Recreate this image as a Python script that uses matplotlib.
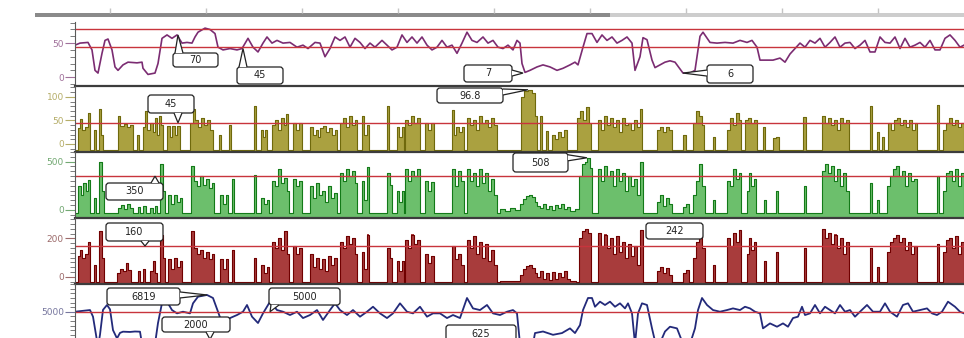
import numpy as np
import matplotlib.pyplot as plt
from matplotlib.patches import FancyBboxPatch, Polygon, Rectangle
from matplotlib.ticker import MultipleLocator

# ---------------- data (t = minutes from left edge) ----------------
level_pairs = [(0, 47), (5, 50), (13, 51), (17, 40), (20, 10), (23, 6), (27, 35), (30, 54), (33, 56), (37, 40),
               (40, 15), (43, 10), (48, 18), (53, 22), (62, 21), (67, 22), (68, 13), (73, 4), (80, 6), (83, 20),
               (87, 57), (92, 62), (97, 57), (102, 62), (107, 50), (112, 51), (117, 50), (120, 59), (123, 66),
               (130, 72), (135, 70), (140, 64), (143, 44), (148, 40), (155, 42), (162, 40), (167, 42), (173, 57),
               (178, 44), (183, 37), (188, 50), (192, 59), (197, 50), (202, 54), (208, 50), (215, 51), (222, 44),
               (228, 47), (233, 42), (240, 51), (245, 50), (250, 30), (255, 42), (260, 59), (265, 54), (270, 59),
               (275, 44), (280, 57), (285, 51), (290, 42), (295, 50), (300, 44), (307, 54), (312, 47), (317, 40),
               (322, 44), (327, 62), (332, 51), (337, 59), (342, 50), (347, 59), (352, 47), (357, 40), (362, 44),
               (367, 54), (372, 44), (377, 47), (382, 35), (387, 50), (392, 66), (397, 54), (402, 51), (408, 59),
               (413, 50), (418, 54), (423, 44), (428, 42), (433, 47), (438, 40), (442, 54), (445, 50), (447, 20),
               (450, 7), (455, 10), (462, 15), (468, 18), (475, 15), (482, 10), (488, 13), (495, 18), (500, 22),
               (503, 18), (508, 44), (512, 64), (517, 64), (522, 51), (527, 62), (532, 54), (537, 59), (542, 50),
               (547, 54), (552, 59), (557, 50), (560, 10), (565, 30), (568, 58), (572, 55), (577, 25), (580, 14),
               (585, 18), (590, 22), (595, 24), (600, 22), (605, 12), (608, 6), (615, 6), (620, 10), (625, 60),
               (628, 66), (635, 51), (642, 50), (650, 51), (658, 50), (665, 54), (672, 51), (677, 54), (682, 44),
               (685, 25), (692, 25), (698, 25), (705, 28), (710, 22), (715, 34), (720, 42), (725, 50), (730, 44),
               (735, 54), (740, 50), (745, 57), (750, 44), (755, 51), (760, 59), (765, 44), (770, 50), (775, 51),
               (780, 42), (785, 47), (790, 54), (795, 37), (800, 37), (805, 59), (810, 51), (815, 50), (820, 59),
               (825, 42), (830, 57), (835, 44), (840, 47), (845, 51), (850, 44), (855, 54), (860, 40), (865, 40),
               (870, 57), (875, 62), (880, 54), (885, 44), (889, 47)]

olive_pairs = [(0, -13), (3, 33), (5, 53), (7, 30), (10, 35), (13, 66), (15, -13), (19, 30), (21, -13), (24, 74),
               (26, 20), (28, -13), (43, 60), (45, 38), (49, 42), (52, 35), (55, 40), (58, -13), (62, 20), (64, -13),
               (68, 35), (70, 70), (72, 30), (75, 45), (78, 25), (80, 55), (82, 20), (84, 60), (86, 40), (88, -13),
               (92, 38), (95, 15), (97, 38), (100, 20), (102, 38), (105, -13), (115, 45), (118, 74), (120, 50),
               (123, 35), (126, 55), (129, 40), (132, 50), (135, 30), (138, -13), (144, 20), (146, -13), (154, 40),
               (156, -13), (179, 80), (181, -13), (186, 30), (188, 15), (190, 30), (192, -13), (197, 40), (200, 50),
               (203, 30), (206, 55), (209, 40), (211, 64), (213, -13), (218, 45), (221, 30), (224, 45), (227, -13),
               (235, 35), (238, 20), (241, 30), (243, 15), (245, 33), (248, 38), (251, 25), (254, 33), (257, 20),
               (260, 30), (262, -13), (265, 45), (268, 55), (271, 35), (274, 60), (277, 40), (280, 50), (282, -13),
               (287, 60), (289, 20), (292, 40), (294, -13), (312, 80), (314, -13), (322, 35), (324, 15), (327, 35),
               (329, -13), (330, 50), (333, 40), (336, 60), (339, 45), (342, 55), (345, -13), (350, 45), (353, 30),
               (356, 45), (359, -13), (377, 73), (379, 20), (381, 35), (384, 25), (387, 35), (389, -13), (392, 55),
               (395, 40), (398, 50), (401, 30), (404, 60), (407, 45), (410, 50), (413, 35), (416, 55), (419, 40),
               (422, -13), (446, 100), (449, 112), (453, 115), (457, 108), (460, 60), (462, -13), (465, 60),
               (467, -13), (471, 28), (473, -13), (477, 20), (480, 10), (483, 25), (486, 15), (489, 30), (492, -13),
               (502, 55), (505, 70), (508, 50), (511, 78), (514, 45), (516, -13), (523, 50), (526, 30), (529, 60),
               (532, 40), (535, 55), (538, 35), (541, 50), (544, 25), (547, 55), (550, 40), (553, 45), (556, 30),
               (559, 50), (562, 35), (565, 75), (567, -13), (582, 30), (585, 35), (588, 25), (591, 35), (594, 30),
               (597, -13), (608, 20), (611, -13), (618, 45), (621, 70), (624, 60), (627, 40), (629, -13), (638, 15),
               (640, -13), (652, 30), (655, 55), (658, 40), (661, 65), (664, 50), (666, -13), (670, 50), (673, 55),
               (676, 45), (679, 50), (682, -13), (688, 35), (690, -13), (698, 12), (701, 15), (704, -13), (728, 58),
               (731, -13), (747, 60), (750, 45), (753, 55), (756, 40), (759, 50), (762, 30), (765, 55), (768, 45),
               (771, 50), (774, -13), (795, 80), (797, -13), (802, 25), (804, -13), (807, 15), (809, -13), (813, 45),
               (816, 30), (819, 50), (822, 55), (825, 40), (828, 50), (831, 35), (834, 50), (837, 30), (840, 45),
               (842, -13), (862, 82), (864, -13), (868, 30), (871, 45), (874, 55), (877, 40), (880, 50), (883, 35),
               (886, 45), (889, -13)]

flow_pairs = [(0, -30), (3, 250), (6, 150), (8, 280), (11, 200), (13, 310), (15, -30), (19, 120), (21, -30),
              (24, 500), (27, 200), (29, -30), (43, 20), (46, 50), (49, 10), (52, 60), (55, 20), (58, -30), (63, 30),
              (65, -30), (68, 40), (71, -30), (75, 20), (78, -30), (80, 40), (82, -30), (85, 480), (88, 200),
              (90, -30), (93, 150), (96, 60), (99, 160), (102, 80), (105, 120), (107, -30), (116, 450), (119, 300),
              (122, 250), (125, 350), (128, 260), (131, 320), (134, 230), (137, 280), (139, -30), (145, 150),
              (148, 60), (151, 150), (153, -30), (157, 320), (159, -30), (179, 360), (181, -30), (186, 120),
              (189, 60), (192, 100), (194, -30), (197, 300), (200, 250), (203, 420), (206, 280), (209, 330),
              (212, 200), (214, -30), (218, 320), (221, 250), (224, 300), (227, -30), (235, 250), (238, 120),
              (241, 280), (244, 150), (247, 200), (250, 80), (253, 250), (256, 120), (259, 180), (262, -30),
              (265, 380), (268, 300), (271, 420), (274, 350), (277, 400), (280, 280), (282, -30), (287, 300),
              (289, 100), (292, 440), (294, -30), (312, 380), (315, 260), (317, -30), (322, 200), (324, 80),
              (327, 200), (329, -30), (330, 420), (333, 300), (336, 400), (339, 350), (342, 420), (345, -30),
              (350, 300), (353, 200), (356, 290), (359, -30), (377, 420), (380, 250), (383, 400), (386, 300),
              (389, -30), (392, 420), (395, 300), (398, 380), (401, 250), (404, 420), (407, 280), (410, 380),
              (413, 200), (416, 320), (419, 150), (422, -30), (425, 10), (430, -10), (435, 20), (440, 0), (445, 60),
              (448, 110), (451, 140), (454, 160), (457, 130), (460, 80), (462, 40), (465, 20), (468, 60), (471, 10),
              (474, 40), (477, 0), (480, 50), (483, 20), (486, 60), (489, 10), (492, 30), (495, -10), (500, 10),
              (504, 350), (507, 480), (510, 500), (512, 540), (515, 430), (517, -30), (523, 420), (526, 300),
              (529, 460), (532, 350), (535, 400), (538, 250), (541, 420), (544, 300), (547, 380), (550, 200),
              (553, 350), (556, 250), (559, 320), (562, 150), (565, 500), (568, -30), (582, 80), (585, 150),
              (588, 40), (591, 120), (594, 60), (597, -30), (608, 30), (611, 60), (614, -30), (618, 150), (621, 300),
              (624, 480), (627, 250), (630, -30), (638, 100), (640, -30), (652, 300), (655, 250), (658, 420),
              (661, 320), (664, 380), (666, -30), (672, 200), (674, 380), (676, 250), (679, 320), (681, -30),
              (689, 100), (691, -30), (701, 200), (703, -30), (729, 250), (731, -30), (747, 400), (750, 480),
              (753, 380), (756, 450), (759, 300), (762, 420), (765, 250), (768, 380), (771, 200), (774, -30),
              (795, 280), (797, -30), (802, 100), (804, -30), (812, 250), (815, 350), (818, 420), (821, 460),
              (824, 350), (827, 400), (830, 250), (833, 380), (836, 300), (839, 320), (842, -30), (862, 350),
              (864, -30), (868, 200), (871, 380), (874, 400), (877, 300), (880, 420), (883, 250), (886, 380),
              (889, -30)]

power_pairs = [(0, -26), (3, 110), (5, 140), (7, 100), (10, 120), (13, 180), (15, -26), (19, 60), (21, -26),
               (24, 240), (27, 100), (29, -26), (42, 20), (45, 40), (48, 30), (51, 70), (53, 35), (56, -26), (63, 30),
               (65, -26), (68, 40), (70, -26), (75, 30), (78, 80), (80, 20), (82, -26), (85, 220), (88, 100),
               (90, -26), (93, 90), (96, 40), (99, 100), (102, 50), (105, 80), (107, -26), (116, 240), (119, 150),
               (122, 120), (125, 140), (128, 100), (131, 130), (134, 90), (137, 120), (139, -26), (145, 90),
               (148, 40), (151, 90), (153, -26), (157, 140), (159, -26), (179, 100), (181, -26), (186, 60), (189, 20),
               (192, 50), (194, -26), (197, 180), (200, 150), (203, 200), (206, 140), (209, 240), (212, 120),
               (214, -26), (218, 160), (221, 120), (224, 150), (227, -26), (235, 120), (238, 50), (241, 100),
               (244, 40), (247, 90), (250, 30), (253, 110), (256, 60), (259, 100), (262, -26), (265, 180), (268, 150),
               (271, 210), (274, 170), (277, 200), (280, 120), (282, -26), (287, 130), (289, 40), (292, 220),
               (294, -26), (312, 150), (315, 100), (317, -26), (322, 80), (324, 30), (327, 80), (329, -26), (330, 190),
               (333, 150), (336, 220), (339, 170), (342, 190), (345, -26), (350, 120), (353, 70), (356, 110),
               (359, -26), (377, 160), (380, 90), (383, 120), (386, 60), (389, -26), (392, 190), (395, 150),
               (398, 210), (401, 120), (404, 180), (407, 100), (410, 170), (413, 80), (416, 140), (419, 60),
               (422, -26), (425, -20), (442, -20), (445, 10), (448, 40), (451, 55), (454, 60), (457, 45), (460, 20),
               (462, 0), (465, 30), (468, -10), (471, 20), (474, -15), (477, 25), (480, -10), (483, 20), (486, 0),
               (489, 30), (492, -10), (495, -20), (501, -26), (504, 200), (507, 240), (510, 250), (513, 230),
               (516, -26), (523, 230), (526, 160), (529, 220), (532, 150), (535, 200), (538, 120), (541, 210),
               (544, 130), (547, 180), (550, 100), (553, 170), (556, 110), (559, 160), (562, 60), (565, 245),
               (568, -26), (582, 30), (585, 50), (588, 20), (591, 45), (594, 10), (597, -26), (608, 20), (611, 35),
               (614, -26), (618, 100), (621, 180), (624, 210), (627, 150), (630, -26), (638, 60), (640, -26),
               (652, 200), (655, 160), (658, 230), (661, 180), (664, 245), (666, -26), (672, 120), (674, 200),
               (676, 140), (679, 180), (681, -26), (689, 80), (691, -26), (701, 130), (703, -26), (729, 150),
               (731, -26), (747, 250), (750, 200), (753, 230), (756, 170), (759, 220), (762, 150), (765, 200),
               (768, 120), (771, 180), (774, -26), (795, 150), (797, -26), (802, 50), (804, -26), (812, 130),
               (815, 180), (818, 200), (821, 215), (824, 180), (827, 200), (830, 140), (833, 180), (836, 120),
               (839, 160), (842, -26), (862, 170), (864, -26), (868, 130), (871, 190), (874, 200), (877, 150),
               (880, 210), (883, 120), (886, 180), (889, -26)]

pressure_pairs = [(0, 5000), (15, 5180), (18, 4460), (21, 2500), (23, 1200), (25, 2500), (28, 5200), (32, 5730),
                  (35, 5260), (38, 3000), (42, 2100), (45, 2700), (48, 2830), (55, 2800), (60, 2850), (65, 2830),
                  (67, 1500), (72, 900), (77, 800), (80, 1500), (83, 3770), (87, 5940), (92, 6090), (97, 5180),
                  (102, 4820), (108, 5000), (115, 4820), (118, 5910), (123, 6630), (132, 6819), (138, 6490),
                  (143, 5000), (147, 3770), (151, 4000), (155, 4310), (162, 4640), (168, 5000), (172, 5730),
                  (177, 4460), (183, 3770), (188, 4820), (195, 6090), (202, 5180), (208, 5000), (215, 4640),
                  (222, 5000), (228, 4310), (235, 4640), (242, 5180), (248, 4100), (255, 5180), (260, 5910),
                  (265, 5180), (272, 4640), (278, 5180), (285, 4460), (292, 5000), (298, 5540), (305, 4820),
                  (312, 4310), (318, 4820), (325, 5910), (332, 5000), (338, 4820), (345, 5540), (352, 4460),
                  (358, 4820), (365, 4820), (372, 4310), (378, 4640), (385, 4310), (392, 6490), (398, 5360),
                  (405, 5180), (412, 5730), (418, 4820), (425, 4640), (432, 5000), (438, 5180), (442, 4820),
                  (445, 1500), (448, 625), (453, 800), (458, 1500), (460, 2680), (468, 2850), (478, 2490),
                  (487, 2680), (495, 3190), (500, 2680), (505, 3550), (508, 5180), (513, 6490), (517, 6490),
                  (520, 5540), (525, 6090), (530, 5730), (535, 6090), (540, 5540), (545, 5910), (550, 5360),
                  (553, 5910), (557, 4820), (560, 1500), (563, 4820), (567, 5910), (572, 5730), (577, 3190),
                  (580, 1800), (585, 1600), (590, 2850), (595, 3370), (602, 3190), (607, 1800), (615, 1500),
                  (620, 3190), (623, 5180), (627, 6490), (632, 5730), (638, 5180), (645, 5000), (652, 5180),
                  (658, 5360), (665, 5180), (670, 5540), (675, 5360), (680, 5000), (685, 4820), (688, 3190),
                  (695, 3730), (702, 3370), (708, 3730), (713, 3370), (718, 4310), (723, 4460), (727, 5540),
                  (730, 4640), (735, 4820), (740, 5730), (745, 4820), (750, 5540), (755, 5180), (760, 4820),
                  (765, 5730), (770, 5000), (775, 5180), (780, 4460), (785, 5000), (792, 5730), (798, 5000),
                  (805, 5000), (810, 5910), (815, 5000), (822, 4460), (828, 5730), (833, 5910), (838, 5000),
                  (845, 5180), (852, 5360), (857, 4820), (862, 4640), (867, 5000), (873, 6090), (880, 5540),
                  (885, 5000), (889, 4820)]

level_limits = [70, 45]
olive_limits = [45]
flow_limits = [350]
power_limits = [160]
pressure_limits = [5000]

# ---------------- layout ----------------
W, H = 964, 338
fig = plt.figure(figsize=(W / 100, H / 100), dpi=100)
fig.patch.set_facecolor('white')
LEFT = 75

def unpack(pairs):
    t, v = zip(*pairs)
    return np.array(t, float), np.array(v, float)

def make_ax(top, bottom):
    ax = fig.add_axes([LEFT / W, 1 - bottom / H, (W - LEFT) / W, (bottom - top) / H])
    ax.set_xlim(0, W - LEFT)
    ax.set_facecolor('none')
    for s in ['top', 'right']:
        ax.spines[s].set_visible(False)
    ax.spines['left'].set_color('#5a5a5a')
    ax.spines['left'].set_linewidth(0.8)
    ax.spines['bottom'].set_color('#3c3c3c')
    ax.spines['bottom'].set_linewidth(1.6)
    ax.set_xticks([])
    return ax

def style_y(ax, ylim, major, minor, color):
    ax.set_ylim(*ylim)
    ax.yaxis.set_major_locator(MultipleLocator(major))
    ax.yaxis.set_minor_locator(MultipleLocator(minor))
    ax.tick_params(axis='y', which='major', length=7, width=0.8, color=color,
                   labelsize=6.5, labelcolor=color, pad=1)
    ax.tick_params(axis='y', which='minor', length=3.5, width=0.6, color='#666666')

# header strip with time ticks
ax0 = fig.add_axes([35 / W, 1 - 18 / H, (W - 35) / W, 12 / H])
ax0.set_xlim(-40, W - LEFT)
ax0.set_ylim(0, 12)
ax0.axis('off')
ax0.add_patch(Rectangle((-40, 1), 575, 4, color='#8a8a8a', lw=0))
ax0.add_patch(Rectangle((535, 1), 354, 4, color='#cdcdcd', lw=0))
ax0.vlines(np.arange(35, 889, 96), 5, 10, color='#c4c4c4', lw=1)

ax1 = make_ax(22, 86)
ax2 = make_ax(86, 152)
ax3 = make_ax(152, 218)
ax4 = make_ax(218, 284)
ax5 = make_ax(284, 350)

LIM = '#c8343c'

# panel 1: level line
t, v = unpack(level_pairs)
ax1.plot(t, v, color='#7b2c72', lw=1.2)
style_y(ax1, (-13, 81), 50, 10, '#a0709a')
for l in level_limits:
    ax1.axhline(l, color=LIM, lw=1)

# spiky panels
def spiky(ax, pairs, ylim, dark, light):
    t, v = unpack(pairs)
    ax.fill_between(t, v, ylim[0], step='post', color=light, lw=0)
    ax.step(t, v, where='post', color=dark, lw=0.8)

spiky(ax2, olive_pairs, (-17, 123), '#6f690c', '#aaa140')
style_y(ax2, (-17, 123), 50, 10, '#b5ad68')
for l in olive_limits:
    ax2.axhline(l, color=LIM, lw=1)

spiky(ax3, flow_pairs, (-83, 600), '#137a18', '#6cbf6c')
style_y(ax3, (-83, 600), 500, 50, '#72a872')
for l in flow_limits:
    ax3.axhline(l, color=LIM, lw=1)

spiky(ax4, power_pairs, (-38, 306), '#700000', '#a83c3c')
style_y(ax4, (-38, 306), 200, 25, '#9c6a6a')
for l in power_limits:
    ax4.axhline(l, color=LIM, lw=1)

t, v = unpack(pressure_pairs)
ax5.plot(t, v, color='#232a7a', lw=1.3)
style_y(ax5, (840, 8010), 5000, 500, '#76769e')
for l in pressure_limits:
    ax5.axhline(l, color=LIM, lw=1)

# ---------------- callouts ----------------
callouts = [
    (ax1, '70', (103, 62), (173, 53, 218, 67)),
    (ax1, '45', (168, 42), (237, 67, 283, 84)),
    (ax1, '7', (448, 6), (464, 65, 512, 82)),
    (ax1, '6', (608, 6), (707, 65, 753, 83)),
    (ax2, '45', (103, 45), (148, 95, 194, 113)),
    (ax2, '96.8', (453, 115), (437, 88, 503, 103)),
    (ax3, '350', (80, 350), (106, 183, 163, 200)),
    (ax3, '508', (512, 540), (513, 153, 568, 172)),
    (ax4, '160', (70, 160), (106, 223, 163, 241)),
    (ax4, '242', (624, 210), (646, 223, 703, 239)),
    (ax5, '6819', (132, 6819), (107, 288, 180, 305)),
    (ax5, '2000', (135, 2000), (162, 317, 230, 332)),
    (ax5, '5000', (195, 5000), (269, 288, 340, 305)),
    (ax5, '625', (448, 625), (446, 325, 516, 343)),
]

tr = fig.dpi_scale_trans

def to_in(x, y):
    return x / 100, (H - y) / 100

for ax, label, tip, (x0, y0, x1, y1) in callouts:
    dx, dy = ax.transData.transform(tip)
    tx, ty = dx, H - dy
    bx0, by0 = to_in(x0, y1)
    fig.add_artist(FancyBboxPatch((bx0, by0), (x1 - x0) / 100, (y1 - y0) / 100,
                                  boxstyle='round,pad=0,rounding_size=0.03',
                                  transform=tr, fc='white', ec='#222222', lw=0.9, zorder=5))
    base = None
    outx = tx < x0 or tx > x1
    outy = ty < y0 or ty > y1
    if outx and (not outy or abs(tx - (x0 + x1) / 2) - (x1 - x0) / 2 > abs(ty - (y0 + y1) / 2) - (y1 - y0) / 2):
        ex = x0 if tx < x0 else x1
        cy = min(max(ty, y0 + 4), y1 - 4)
        base = [(ex, cy - 3), (ex, cy + 3)]
    elif outy:
        ey = y0 if ty < y0 else y1
        cx = min(max(tx, x0 + 6), x1 - 6)
        base = [(cx - 4, ey), (cx + 4, ey)]
    if base is not None:
        pts = [to_in(*base[0]), to_in(tx, ty), to_in(*base[1])]
        fig.add_artist(Polygon(pts, closed=True, transform=tr, fc='white', ec='none', zorder=6))
        fig.add_artist(Polygon(pts, closed=False, transform=tr, fill=False, ec='#222222', lw=0.9, zorder=6))
    cx_in, cy_in = to_in((x0 + x1) / 2, (y0 + y1) / 2)
    fig.text(cx_in, cy_in, label, transform=tr, ha='center', va='center',
             fontsize=7, color='#222222', zorder=7)

fig.savefig('out.png', dpi=100, facecolor='white')
